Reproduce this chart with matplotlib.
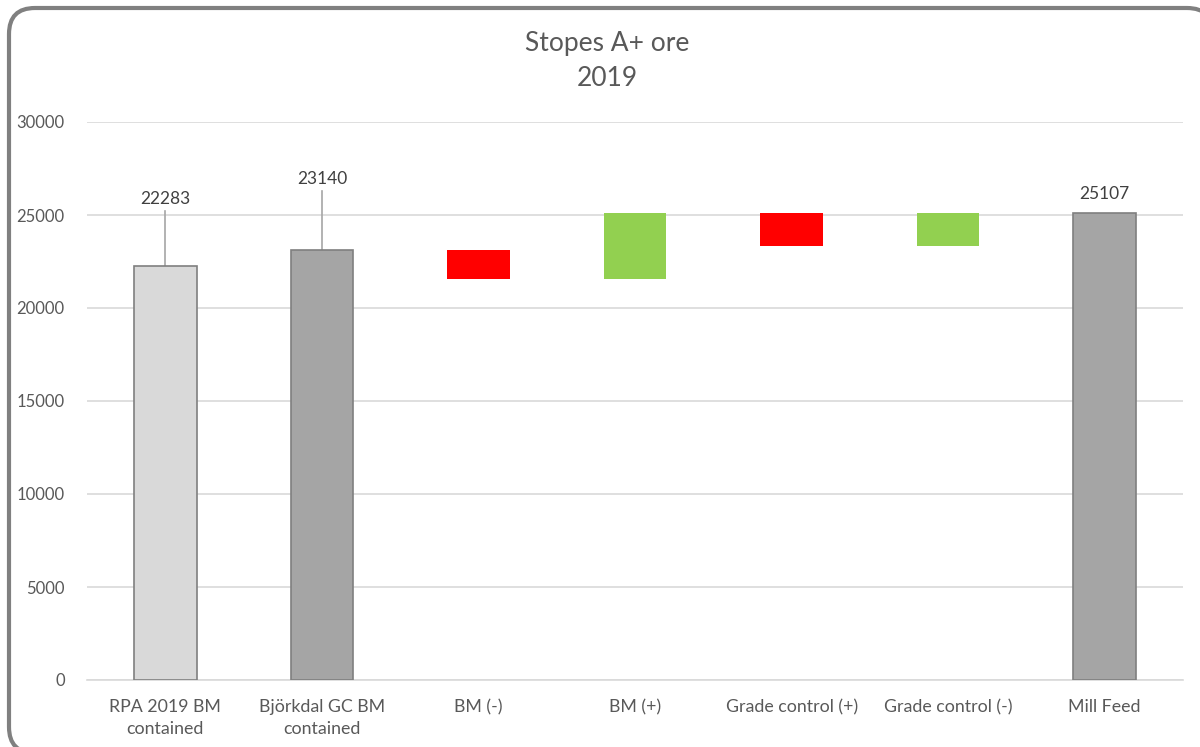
import matplotlib
matplotlib.use("Agg")
import matplotlib.pyplot as plt
from matplotlib.patches import FancyBboxPatch
from matplotlib.transforms import IdentityTransform
import numpy as np

categories = ["RPA 2019 BM\ncontained", "Björkdal GC BM\ncontained", "BM (-)", "BM (+)",
              "Grade control (+)", "Grade control (-)", "Mill Feed"]
rpa_total = 22283
gc_total = 23140
changes = [-1580, 3540, -1750, 1757]
mill_feed = 25107
yticks = [0, 5000, 10000, 15000, 20000, 25000, 30000]

plt.rcParams['font.family'] = ['Lato', 'DejaVu Sans']

W, H = 1200, 747
fig = plt.figure(figsize=(W/100, H/100), dpi=100)
ax = fig.add_axes([87/W, 1-680/H, (1183-87)/W, (680-122)/H])

x = np.arange(len(categories))
w = 0.40
txt = '#595959'

# totals
ax.bar(x[0], rpa_total, w, color='#D9D9D9', edgecolor='#7F7F7F', linewidth=1.2, zorder=3)
ax.bar(x[1], gc_total, w, color='#A5A5A5', edgecolor='#7F7F7F', linewidth=1.2, zorder=3)
ax.bar(x[6], mill_feed, w, color='#A5A5A5', edgecolor='#7F7F7F', linewidth=1.2, zorder=3)

# floating changes
level = gc_total
for i, d in enumerate(changes):
    bottom = level if d > 0 else level + d
    col = '#92D050' if d > 0 else '#FF0000'
    ax.bar(x[2 + i], abs(d), w, bottom=bottom, color=col, edgecolor='none', zorder=3)
    level += d

# data labels with leader lines
lead = [(0, rpa_total, 2930), (1, gc_total, 3150)]
for xi, v, off in lead:
    ax.plot([x[xi], x[xi]], [v, v + off], color='#A6A6A6', lw=1.2, zorder=2)
    ax.text(x[xi], v + off + 230, f"{v}", ha='center', va='bottom', fontsize=12.5, color='#404040')
ax.text(x[6], mill_feed + 580, f"{mill_feed}", ha='center', va='bottom', fontsize=12.5, color='#404040')

ax.set_ylim(0, 30000)
ax.set_xlim(-0.5, len(categories) - 0.5)
ax.set_yticks(yticks)
ax.set_yticklabels([str(t) for t in yticks])
ax.set_xticks(x)
ax.set_xticklabels(categories, fontsize=12.8, color=txt, linespacing=1.45)
ax.tick_params(axis='y', labelsize=12, labelcolor=txt, length=0, pad=16)
ax.tick_params(axis='x', length=0, pad=14)
ax.grid(axis='y', color='#D9D9D9', lw=1.2, zorder=0)
for s in ['top', 'right', 'left']:
    ax.spines[s].set_visible(False)
ax.spines['bottom'].set_color('#D9D9D9')
ax.spines['bottom'].set_linewidth(1.2)

fig.text(607/W, 1-61/H, "Stopes A+ ore\n2019", ha='center', va='center',
         fontsize=19, color=txt, linespacing=1.45)

# rounded chart frame (pixel coordinates, origin bottom-left); filled so it is not clipped to canvas
x0, y_top, x1, y_bot = 9, 8, 1213, 753
frame = FancyBboxPatch((x0, H - y_bot), x1 - x0, y_bot - y_top,
                       boxstyle="round,pad=0,rounding_size=26",
                       transform=IdentityTransform(), facecolor='white',
                       edgecolor='#808080', linewidth=3, clip_on=False, zorder=-5)
fig.patches.append(frame)

fig.savefig("out.png", dpi=100)
